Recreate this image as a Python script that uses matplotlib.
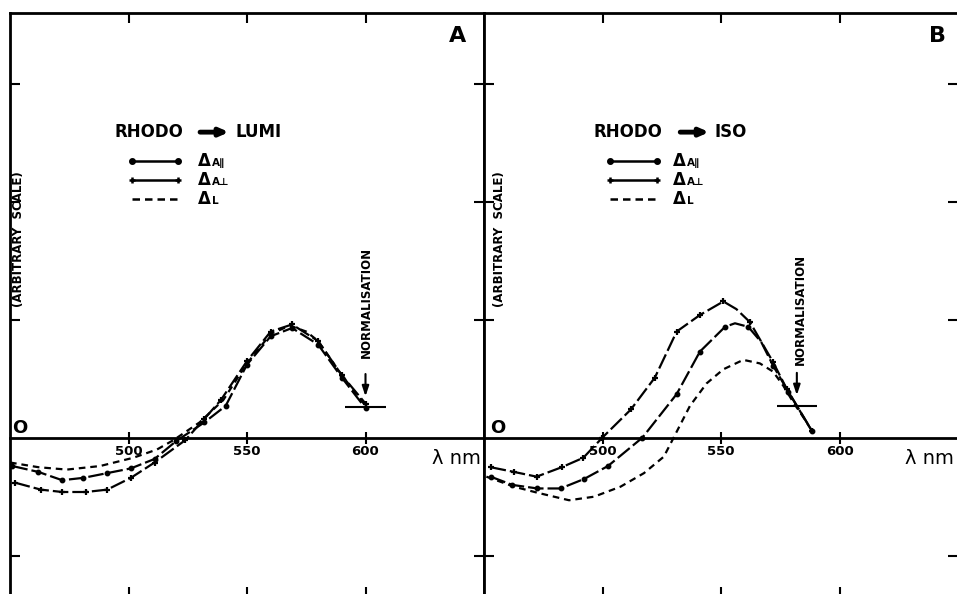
import matplotlib.pyplot as plt

plt.rcParams['font.family'] = ['DejaVu Sans']

# panel A : rhodo -> lumi  (wavelength nm, arbitrary scale)
a_par_x = [451, 462, 472, 481, 491, 501, 511, 520, 532, 541, 550, 560, 569, 580, 590, 600]
a_par_y = [-0.24, -0.29, -0.36, -0.34, -0.30, -0.26, -0.18, -0.03, 0.13, 0.27, 0.62, 0.86, 0.93, 0.79, 0.51, 0.25]
a_perp_x = [452, 463, 472, 482, 491, 501, 511, 524, 532, 539, 550, 560, 569, 580, 590, 600]
a_perp_y = [-0.38, -0.44, -0.46, -0.46, -0.44, -0.34, -0.21, -0.02, 0.16, 0.32, 0.65, 0.90, 0.96, 0.82, 0.53, 0.29]
a_l_x = [450, 462, 474, 488, 502, 512, 519, 530, 540, 550, 560, 568, 575, 580, 590, 600]
a_l_y = [-0.21, -0.25, -0.27, -0.24, -0.17, -0.10, -0.02, 0.13, 0.32, 0.63, 0.88, 0.95, 0.90, 0.82, 0.53, 0.27]

# panel B : rhodo -> iso
b_par_x = [452.8, 462, 472.5, 482.3, 492.2, 502.3, 516.8, 531.3, 541.1, 551.7, 555.9, 561.5, 567, 572, 578.4, 588.3]
b_par_y = [-0.33, -0.40, -0.43, -0.43, -0.35, -0.24, 0.0, 0.37, 0.73, 0.94, 0.97, 0.94, 0.81, 0.61, 0.39, 0.06]
b_par_marks = [0, 1, 2, 3, 4, 5, 6, 7, 8, 9, 11, 13, 14, 15]
b_perp_x = [452.8, 462.7, 472.2, 482.8, 491.9, 499.9, 512, 522.1, 531.3, 541.1, 551, 556.5, 562.2, 572, 577.7, 588.3]
b_perp_y = [-0.25, -0.29, -0.33, -0.25, -0.17, 0.0, 0.24, 0.51, 0.90, 1.04, 1.155, 1.09, 0.98, 0.64, 0.415, 0.06]
b_perp_marks = [0, 1, 2, 3, 4, 5, 6, 7, 8, 9, 10, 12, 13, 14, 15]
b_l_x = [451, 462.7, 472.5, 485.9, 496.4, 507.6, 517.5, 525.9, 530, 536.9, 543.9, 551, 559.4, 566.4, 572, 576.3, 580.5, 584.7, 588.3]
b_l_y = [-0.33, -0.415, -0.466, -0.53, -0.50, -0.415, -0.30, -0.16, 0.0, 0.27, 0.46, 0.58, 0.66, 0.63, 0.56, 0.44, 0.30, 0.175, 0.06]

norm_a = (600, 0.26)
norm_b = (582, 0.27)
xticks = [500, 550, 600]
yticks = [-1, 1, 2, 3]

fig = plt.figure(figsize=(9.57, 5.94), dpi=100)
ax_a = fig.add_axes([10 / 957, -3 / 594, 474 / 957, 584 / 594])
ax_b = fig.add_axes([484 / 957, -3 / 594, 474 / 957, 584 / 594])


def setup(ax, letter, letter_x, o_x, nm_x, ylab_x):
    ax.set_xlim(450, 650)
    ax.set_ylim(-1.35, 3.6)
    ax.set_xticks(xticks)
    ax.set_yticks(yticks)
    ax.tick_params(direction='in', length=7, width=1.5, top=True, right=True,
                   labelbottom=False, labelleft=False)
    for s in ax.spines.values():
        s.set_linewidth(2)
    zero = ax.secondary_xaxis(0, transform=ax.transData)
    zero.set_xticks(xticks, labels=[str(t) for t in xticks], fontweight='bold', fontsize=9.5)
    zero.tick_params(direction='inout', length=8, width=1.5, pad=1.5)
    zero.spines['bottom'].set_linewidth(2)
    ax.text(letter_x, 0.961, letter, transform=ax.transAxes,
            ha='center', va='center', fontsize=16, fontweight='bold')
    ax.text(o_x, 0.289, 'O', transform=ax.transAxes, ha='center', va='center',
            fontsize=13, fontweight='bold')
    ax.text(nm_x, 0.238, 'λ nm', transform=ax.transAxes, ha='right', va='center', fontsize=14)
    ax.text(ylab_x, 0.613, '(ARBITRARY  SCALE)', transform=ax.transAxes, rotation=90,
            ha='center', va='center', fontsize=8.5, fontweight='bold')


def legend(ax, title_x, arr0, arr1, prod_x, product, l0, l1, lab_x):
    ty = 0.796
    ax.text(title_x, ty, 'RHODO', transform=ax.transAxes, ha='left', va='center',
            fontsize=12, fontweight='bold')
    ax.annotate('', xy=(arr1, ty), xytext=(arr0, ty), xycoords='axes fraction',
                arrowprops=dict(arrowstyle='-|>,head_length=0.5,head_width=0.22',
                                lw=3.5, color='black', shrinkA=0, shrinkB=0))
    ax.text(prod_x, ty, product, transform=ax.transAxes, ha='left', va='center',
            fontsize=12, fontweight='bold')
    rows = [(0.7466, 'o', 3.2, '-', 'A∥'), (0.714, '+', 5, '-', 'A⊥'), (0.6815, '', 0, (0, (3, 2)), 'L')]
    for fy, mk, ms, ls, sub in rows:
        ax.plot([l0, l1], [fy, fy], transform=ax.transAxes, color='black', lw=1.8,
                ls=ls, marker=mk if mk else None, ms=ms, mew=1.8, clip_on=False)
        ax.text(lab_x, fy - 0.009, 'Δ', transform=ax.transAxes, ha='left', va='baseline',
                fontsize=12, fontweight='bold')
        ax.text(lab_x + 0.029, fy - 0.009, sub, transform=ax.transAxes, ha='left',
                va='baseline', fontsize=7.5, fontweight='bold')


def normalisation(ax, pt, text_x, text_y):
    nx, ny = pt
    ax.hlines(ny, nx - 8.5, nx + 8.5, color='black', lw=1.5)
    ax.annotate('', xy=(nx, ny + 0.09), xytext=(nx, ny + 0.28),
                arrowprops=dict(arrowstyle='-|>,head_length=0.6,head_width=0.2',
                                lw=1.5, color='black', shrinkA=0, shrinkB=0))
    ax.text(text_x, text_y, 'NORMALISATION', transform=ax.transAxes, rotation=90,
            ha='center', va='center', fontsize=8.5, fontweight='bold')


long_dash = (0, (7, 1.8))
short_dash = (0, (3, 2.2))

ax_a.plot(a_l_x, a_l_y, color='black', lw=1.6, ls=short_dash)
ax_a.plot(a_par_x, a_par_y, color='black', lw=1.6, ls=long_dash, marker='o', ms=3.2)
ax_a.plot(a_perp_x, a_perp_y, color='black', lw=1.6, ls=long_dash, marker='+', ms=5, mew=1.6)

ax_b.plot(b_l_x, b_l_y, color='black', lw=1.6, ls=short_dash)
ax_b.plot(b_par_x, b_par_y, color='black', lw=1.6, ls=long_dash, marker='o', ms=3.2,
          markevery=b_par_marks)
ax_b.plot(b_perp_x, b_perp_y, color='black', lw=1.6, ls=long_dash, marker='+', ms=5, mew=1.6,
          markevery=b_perp_marks)

setup(ax_a, 'A', 0.945, 0.021, 0.994, 0.017)
setup(ax_b, 'B', 0.956, 0.030, 0.992, 0.032)
legend(ax_a, 0.2215, 0.401, 0.462, 0.475, 'LUMI', 0.257, 0.354, 0.397)
legend(ax_b, 0.230, 0.414, 0.475, 0.487, 'ISO', 0.266, 0.365, 0.399)
normalisation(ax_a, norm_a, 0.751, 0.505)
normalisation(ax_b, norm_b, 0.667, 0.493)

fig.savefig('out.png', dpi=100)
